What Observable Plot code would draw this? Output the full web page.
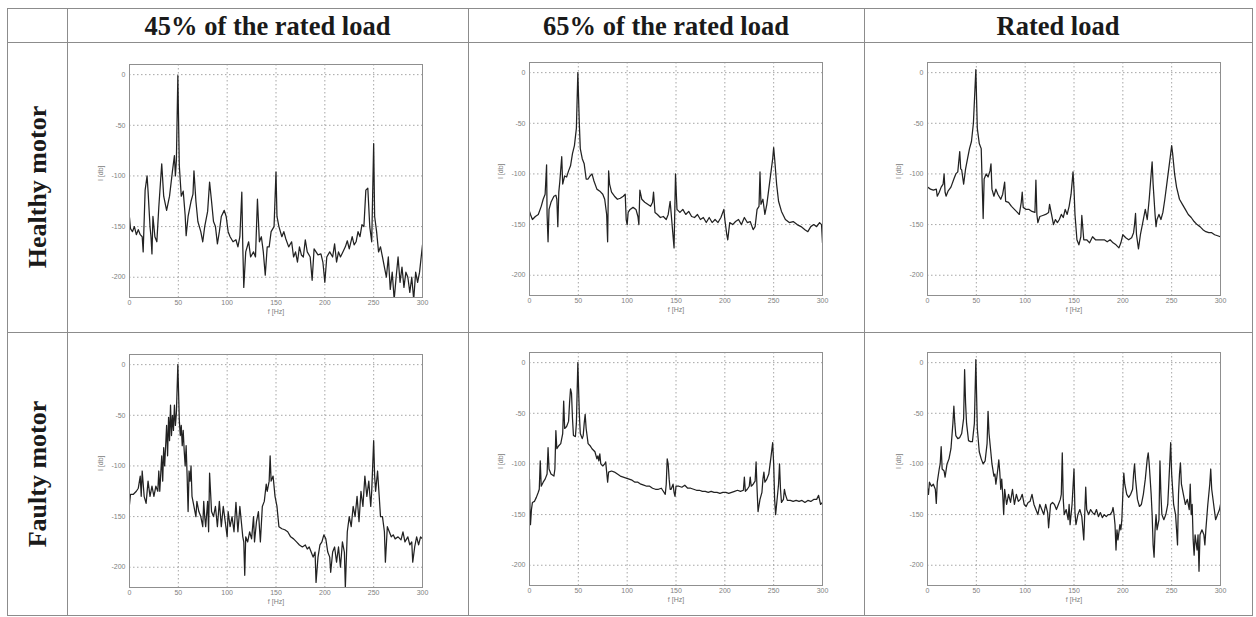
<!DOCTYPE html>
<html><head><meta charset="utf-8">
<script src="https://cdn.jsdelivr.net/npm/d3@7"></script>
<script src="https://cdn.jsdelivr.net/npm/@observablehq/plot@0.6"></script>
<style>
body{margin:0;background:#fff;}
#page{position:relative;width:1256px;height:617px;overflow:hidden;background:#fff;}
.hl{position:absolute;height:1px;background:#8c8c8c;}
.vl{position:absolute;width:1px;background:#8c8c8c;}
.head{position:absolute;font:bold 26.5px "Liberation Serif","Times New Roman",serif;color:#1a1a1a;text-align:center;white-space:nowrap;line-height:34px;}
.rowlab{position:absolute;font:bold 26px "Liberation Serif","Times New Roman",serif;color:#1a1a1a;white-space:nowrap;transform:translate(-50%,-50%) rotate(-90deg);line-height:30px;}
</style>
</head><body>
<div id="page"></div>
<script>
const loads = ["45% of the rated load", "65% of the rated load", "Rated load"];
const motors = ["Healthy motor", "Faulty motor"];
const xTicks = [0, 50, 100, 150, 200, 250, 300];
const yTicks = [0, -50, -100, -150, -200];
const xLabel = "f [Hz]";
const yLabel = "I [db]";

const healthy45 = [[0,-141],[1,-152],[3,-155],[5,-150],[7,-158],[9,-153],[11,-158],[13,-160],[14,-175],[16,-114],[18,-100],[19,-115],[21,-150],[22,-160],[23,-177],[24,-140],[26,-160],[28,-165],[30,-131],[33,-88],[35,-120],[38,-134],[41,-120],[44,-95],[46,-80],[47,-100],[48,-85],[49.5,-1],[51,-90],[53,-120],[55,-115],[57,-139],[58,-159],[60,-140],[63,-125],[65,-118],[66,-95],[68,-125],[70,-145],[73,-155],[75,-165],[77,-150],[80,-135],[82,-106],[84,-125],[86,-145],[88,-150],[90,-167],[92,-155],[94,-140],[97,-134],[99,-140],[101,-155],[103,-160],[106,-165],[109,-163],[111,-170],[113,-160],[115,-116],[116,-170],[117,-210],[119,-175],[122,-165],[124,-180],[127,-175],[129,-180],[131,-123],[133,-165],[135,-160],[137,-175],[139,-198],[141,-170],[143,-170],[145,-155],[148,-150],[150,-96],[151,-140],[153,-150],[156,-160],[158,-155],[160,-162],[163,-170],[166,-165],[168,-180],[170,-175],[172,-185],[174,-170],[176,-178],[178,-180],[180,-163],[182,-175],[185,-180],[187,-203],[189,-172],[191,-175],[193,-178],[196,-177],[198,-185],[200,-205],[202,-180],[205,-175],[208,-180],[210,-167],[212,-185],[214,-175],[216,-180],[218,-176],[221,-170],[223,-164],[225,-172],[228,-160],[230,-168],[232,-165],[234,-155],[236,-160],[238,-148],[240,-150],[242,-114],[244,-112],[246,-150],[248,-165],[250,-68],[251,-140],[253,-155],[255,-175],[257,-170],[259,-180],[261,-190],[263,-200],[265,-180],[267,-212],[269,-195],[271,-222],[273,-200],[275,-180],[277,-205],[279,-190],[281,-210],[283,-195],[285,-200],[287,-215],[289,-200],[291,-222],[293,-195],[295,-205],[297,-195],[300,-168]];

const healthy65 = [[0,-137],[1,-140],[3,-145],[6,-142],[9,-140],[12,-132],[14,-125],[16,-120],[17.5,-91],[18,-140],[19,-167],[20,-135],[22,-128],[25,-122],[27,-121],[28,-125],[29,-152],[30,-118],[31,-108],[33,-83],[34,-110],[36,-102],[38,-103],[40,-97],[42,-92],[44,-80],[46,-72],[48,-55],[49.5,0],[51,-50],[52,-75],[54,-85],[56,-90],[58,-105],[60,-105],[62,-102],[64,-100],[66,-107],[69,-115],[72,-117],[75,-120],[77,-125],[79,-140],[80,-167],[81,-97],[82,-110],[84,-118],[87,-122],[90,-125],[93,-124],[96,-122],[98,-120],[99,-145],[100,-150],[101,-138],[103,-135],[106,-133],[109,-135],[111,-142],[112,-150],[113,-116],[115,-125],[118,-128],[121,-130],[124,-132],[126,-128],[127,-118],[128.5,-138],[131,-140],[134,-143],[137,-142],[140,-145],[142,-140],[144,-127],[146,-150],[148,-173],[149.5,-100],[151,-135],[154,-138],[157,-135],[160,-140],[163,-137],[166,-142],[169,-143],[172,-140],[175,-145],[178,-143],[181,-148],[184,-143],[187,-148],[190,-145],[193,-148],[196,-143],[199,-135],[200,-145],[202,-160],[203,-165],[205,-148],[208,-150],[211,-147],[214,-145],[217,-150],[220,-143],[223,-148],[226,-147],[229,-155],[231,-152],[233,-135],[235,-132],[236,-98],[237,-130],[239,-125],[241,-140],[243,-130],[245,-115],[247,-100],[249,-85],[250,-74],[251,-85],[253,-110],[255,-127],[258,-137],[262,-145],[266,-148],[270,-147],[274,-150],[278,-152],[282,-155],[285,-157],[288,-152],[291,-150],[294,-152],[297,-148],[299,-150],[300,-168]];

const healthyRated = [[0,-113],[3,-115],[6,-116],[9,-115],[10,-122],[12,-118],[14,-113],[16,-110],[17,-100],[18,-118],[19,-122],[21,-117],[24,-113],[27,-105],[29,-100],[31,-98],[33,-78],[34,-95],[35,-96],[37,-110],[39,-95],[41,-85],[43,-75],[45,-68],[47,-50],[49.5,3],[51,-55],[53,-70],[55,-75],[56,-110],[57,-144],[58,-105],[60,-100],[62,-103],[64,-97],[65,-90],[66,-115],[68,-122],[70,-115],[72,-120],[75,-125],[77,-120],[79,-108],[80,-127],[83,-128],[86,-132],[89,-135],[92,-138],[94,-140],[96,-128],[97,-118],[98,-133],[101,-135],[104,-135],[107,-137],[110,-138],[111,-106],[112,-140],[113,-148],[115,-142],[118,-141],[121,-140],[124,-138],[125,-130],[127,-140],[129,-150],[131,-145],[133,-148],[135,-145],[137,-140],[139,-143],[141,-135],[143,-140],[145,-132],[147,-120],[149,-98],[150,-115],[151,-140],[153,-165],[155,-170],[157,-162],[158,-141],[160,-165],[163,-165],[166,-168],[169,-162],[172,-165],[175,-165],[178,-165],[181,-165],[184,-167],[187,-165],[190,-168],[193,-170],[196,-173],[198,-168],[200,-160],[203,-163],[206,-165],[209,-163],[211,-158],[212,-150],[213,-139],[214,-160],[216,-174],[218,-160],[220,-150],[222,-140],[223,-135],[225,-145],[227,-125],[229,-100],[230,-88],[231,-110],[233,-140],[234,-152],[235,-145],[237,-140],[239,-145],[241,-138],[243,-125],[245,-110],[247,-95],[249,-80],[250,-72],[251,-80],[253,-100],[255,-113],[258,-125],[261,-130],[264,-135],[267,-140],[270,-143],[273,-147],[276,-150],[279,-152],[282,-155],[285,-157],[288,-158],[291,-158],[294,-160],[297,-161],[300,-162]];

const faulty45 = [[0,-138],[1,-128],[4,-128],[7,-125],[9,-122],[11,-110],[12,-130],[13,-105],[15,-130],[17,-137],[19,-115],[21,-130],[23,-120],[25,-130],[27,-120],[29,-125],[30,-105],[31,-125],[33,-90],[34,-115],[35,-82],[36,-100],[38,-60],[39,-90],[40,-52],[41,-75],[42,-40],[43,-70],[44,-50],[45,-65],[46,-40],[47,-60],[48,-48],[49.5,0],[51,-55],[52,-70],[53,-60],[54,-80],[55,-65],[56,-85],[57,-100],[58,-80],[59,-110],[60,-145],[61,-105],[62,-115],[63,-100],[64,-130],[66,-140],[68,-150],[69,-135],[71,-145],[73,-150],[75,-160],[76,-135],[77,-150],[78,-160],[80,-135],[81,-165],[82,-107],[84,-145],[86,-150],[88,-140],[90,-160],[92,-135],[94,-160],[96,-140],[98,-155],[100,-170],[101,-145],[103,-160],[105,-150],[107,-165],[109,-136],[111,-165],[113,-140],[115,-160],[116,-170],[117,-175],[118,-208],[119,-170],[121,-175],[123,-165],[125,-172],[127,-150],[128,-175],[130,-155],[132,-145],[134,-175],[136,-140],[138,-135],[140,-118],[141,-125],[143,-115],[144,-90],[145,-115],[147,-110],[149,-130],[151,-140],[153,-160],[156,-162],[159,-163],[162,-165],[165,-170],[168,-172],[171,-175],[174,-178],[177,-180],[180,-178],[182,-182],[184,-180],[186,-185],[188,-190],[190,-185],[191,-215],[193,-190],[195,-178],[197,-175],[199,-168],[201,-172],[203,-185],[205,-190],[206,-205],[208,-185],[210,-180],[212,-195],[214,-180],[216,-200],[218,-175],[220,-185],[221,-220],[223,-165],[225,-150],[227,-160],[229,-140],[231,-150],[233,-130],[235,-155],[237,-125],[239,-140],[241,-110],[243,-130],[245,-115],[247,-140],[248,-125],[250,-75],[251,-110],[252,-125],[254,-105],[256,-135],[257,-150],[259,-150],[261,-165],[262,-195],[264,-160],[266,-165],[268,-170],[270,-168],[272,-172],[275,-170],[278,-173],[280,-165],[282,-175],[285,-170],[287,-178],[289,-175],[290,-195],[292,-180],[294,-170],[296,-178],[298,-170],[300,-172]];

const faulty65 = [[0,-115],[0.5,-145],[1,-160],[2,-145],[3,-138],[5,-137],[7,-133],[9,-128],[10,-125],[11,-97],[12,-122],[14,-118],[16,-115],[18,-110],[19,-84],[20,-105],[22,-110],[25,-112],[26,-105],[27,-67],[28,-85],[30,-82],[32,-80],[34,-70],[35,-38],[36,-65],[38,-63],[40,-58],[41,-40],[42,-26],[43,-30],[44,-55],[45,-72],[47,-73],[48,-60],[49.5,0],[51,-50],[52,-70],[54,-75],[55,-72],[56,-60],[57,-51],[58,-65],[60,-80],[62,-82],[64,-85],[67,-88],[69,-95],[70,-92],[71,-97],[72,-90],[73,-100],[75,-102],[77,-100],[78,-98],[79,-108],[80,-118],[81,-108],[84,-107],[87,-108],[90,-110],[93,-112],[96,-113],[99,-114],[102,-115],[105,-116],[108,-118],[111,-118],[114,-120],[117,-121],[120,-122],[123,-122],[126,-124],[129,-125],[132,-125],[135,-124],[137,-127],[139,-130],[140,-120],[141,-95],[142,-100],[143,-115],[144,-125],[145,-125],[147,-120],[148,-128],[149,-132],[150,-122],[153,-122],[156,-123],[159,-121],[162,-124],[165,-124],[168,-125],[171,-126],[174,-126],[177,-127],[180,-127],[183,-128],[186,-127],[189,-128],[192,-128],[195,-129],[198,-128],[201,-128],[204,-129],[207,-128],[210,-127],[213,-126],[216,-127],[219,-126],[220,-113],[221,-127],[223,-125],[225,-122],[226,-113],[227,-122],[229,-120],[231,-117],[232,-98],[233,-125],[234,-147],[236,-135],[238,-128],[239,-115],[240,-108],[241,-118],[243,-115],[245,-110],[247,-95],[249,-79],[250,-100],[251,-135],[252,-150],[253,-140],[255,-120],[256,-100],[257,-125],[258,-138],[260,-135],[261,-125],[262,-130],[264,-136],[267,-136],[270,-137],[273,-136],[276,-137],[279,-136],[282,-138],[285,-136],[288,-137],[291,-135],[294,-135],[296,-131],[298,-140],[300,-138]];

const faultyRated = [[0,-124],[1,-130],[2,-118],[4,-122],[6,-120],[8,-125],[9,-139],[10,-118],[12,-105],[13,-100],[14,-83],[15,-105],[17,-107],[18,-113],[20,-100],[22,-95],[24,-85],[26,-60],[27,-43],[28,-60],[29,-72],[31,-75],[33,-74],[35,-70],[37,-55],[38,-7],[39,-40],[40,-60],[42,-77],[44,-78],[46,-78],[48,-60],[49.5,3],[51,-65],[53,-88],[55,-95],[57,-100],[59,-97],[61,-80],[62,-48],[63,-70],[65,-90],[66,-100],[68,-112],[69,-110],[70,-120],[71,-113],[72,-105],[73,-96],[74,-108],[75,-125],[76,-115],[77,-130],[78,-150],[79,-125],[81,-140],[83,-130],[85,-138],[87,-125],[89,-140],[91,-130],[93,-137],[95,-135],[97,-130],[99,-140],[101,-142],[103,-138],[105,-137],[107,-130],[109,-140],[111,-145],[113,-150],[115,-140],[117,-145],[119,-150],[121,-140],[123,-148],[124,-163],[126,-140],[128,-138],[130,-140],[132,-145],[134,-140],[136,-135],[137,-130],[138,-89],[139,-135],[140,-150],[142,-145],[144,-155],[145,-140],[146,-160],[148,-140],[150,-105],[151,-148],[152,-160],[154,-150],[156,-145],[158,-152],[160,-175],[162,-123],[163,-145],[165,-150],[167,-145],[169,-148],[171,-150],[173,-145],[175,-152],[177,-148],[179,-153],[181,-150],[183,-152],[185,-150],[187,-150],[189,-147],[190,-143],[191,-150],[192,-160],[193,-185],[194,-165],[195,-175],[197,-160],[198,-165],[199,-155],[200,-130],[201,-109],[202,-120],[204,-130],[206,-133],[208,-130],[210,-125],[211,-110],[212,-100],[213,-115],[215,-135],[217,-142],[219,-140],[221,-130],[223,-115],[225,-95],[226,-89],[227,-100],[229,-130],[230,-150],[231,-180],[232,-192],[233,-165],[234,-150],[235,-165],[237,-155],[238,-97],[239,-130],[240,-150],[242,-155],[244,-150],[246,-140],[248,-100],[249,-79],[250,-110],[252,-140],[254,-150],[255,-165],[256,-180],[257,-130],[258,-110],[259,-99],[260,-120],[262,-130],[264,-140],[266,-135],[268,-145],[269,-120],[270,-150],[271,-140],[272,-175],[273,-190],[274,-170],[276,-185],[277,-170],[278,-206],[279,-170],[281,-165],[283,-170],[284,-180],[285,-165],[287,-140],[289,-120],[290,-105],[291,-125],[293,-140],[295,-155],[297,-150],[299,-145],[300,-140]];

const series = [[healthy45, healthy65, healthyRated], [faulty45, faulty65, faultyRated]];

// ---- layout (pixel geometry of the table) ----
const page = document.getElementById("page");
const colX = [7, 67, 468, 864, 1252];
const rowY = [8, 42, 332, 615];
function hline(y, x0, x1){const d=document.createElement("div");d.className="hl";d.style.top=y+"px";d.style.left=x0+"px";d.style.width=(x1-x0+1)+"px";page.appendChild(d);}
function vline(x, y0, y1){const d=document.createElement("div");d.className="vl";d.style.left=x+"px";d.style.top=y0+"px";d.style.height=(y1-y0+1)+"px";page.appendChild(d);}
rowY.forEach(y => hline(y, colX[0], colX[4]));
colX.forEach(x => vline(x, rowY[0], rowY[3]));

loads.forEach((t, i) => {
  const d = document.createElement("div");
  d.className = "head";
  d.textContent = t;
  d.style.left = colX[i+1] + "px";
  d.style.width = (colX[i+2] - colX[i+1]) + "px";
  d.style.top = (rowY[0] + 1) + "px";
  page.appendChild(d);
});
motors.forEach((t, j) => {
  const d = document.createElement("div");
  d.className = "rowlab";
  d.textContent = t;
  d.style.left = ((colX[0] + colX[1]) / 2 + 1) + "px";
  d.style.top = ((rowY[j+1] + rowY[j+2]) / 2) + "px";
  page.appendChild(d);
});

const frames = [[[129, 64], [529, 62], [927, 62]], [[129, 354], [529, 352], [927, 352]]];
const FW = 293, FH = 233, ML = 45, MR = 10, MT = 5, MB = 28;
const fmtY = d => d === 0 ? "0" : "-" + Math.abs(d);
const gridStyle = {stroke: "#8f8f8f", strokeOpacity: 1, strokeWidth: 0.8, strokeDasharray: "1.5,2.5"};

for (let j = 0; j < 2; j++) for (let i = 0; i < 3; i++) {
  const data = series[j][i];
  const svg = Plot.plot({
    width: FW + ML + MR, height: FH + MT + MB,
    marginLeft: ML, marginRight: MR, marginTop: MT, marginBottom: MB,
    style: {background: "transparent", fontFamily: '"Liberation Sans", Arial, sans-serif', fontSize: "7px", color: "#808080", maxWidth: "none", overflow: "visible"},
    x: {domain: [0, 300]},
    y: {domain: [-220, 10]},
    marks: [
      Plot.gridX(xTicks, gridStyle),
      Plot.gridY(yTicks, gridStyle),
      Plot.line(data, {x: d => d[0], y: d => d[1], stroke: "#222", strokeWidth: 1.25, strokeLinejoin: "round", clip: true}),
      Plot.frame({stroke: "#8f8f8f"}),
      Plot.axisX(xTicks, {tickSize: 0, tickPadding: 3, label: null, tickFormat: d => String(d)}),
      Plot.axisY(yTicks, {tickSize: 0, tickPadding: 4, label: null, tickFormat: fmtY}),
      Plot.text([xLabel], {frameAnchor: "bottom", dy: 16, text: d => d, fill: "#808080"}),
      Plot.text([yLabel], {frameAnchor: "left", dx: -29, rotate: -90, text: d => d, fill: "#808080"})
    ]
  });
  svg.style.position = "absolute";
  svg.style.left = (frames[j][i][0] - ML) + "px";
  svg.style.top = (frames[j][i][1] - MT) + "px";
  page.appendChild(svg);
}
</script>
</body></html>
